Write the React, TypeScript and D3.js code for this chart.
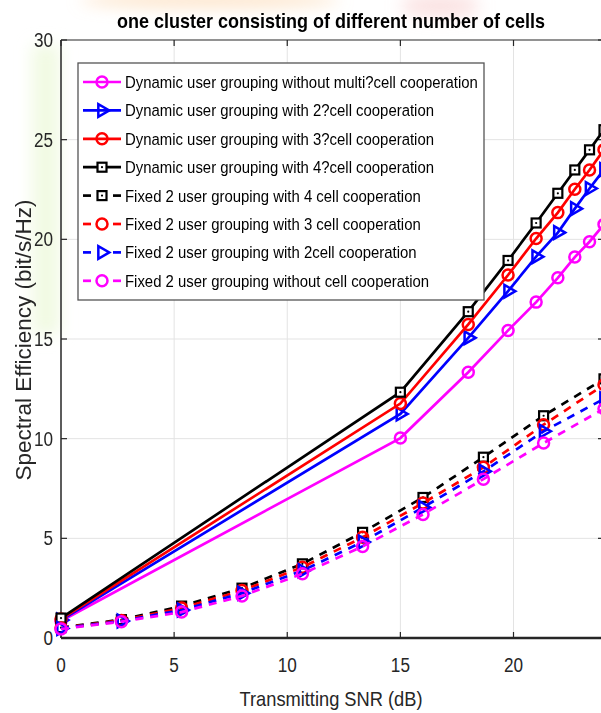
import React, { useEffect, useRef } from 'react';
import * as d3 from 'd3';

// x positions (dB)
const xDynamic = [0, 15, 18, 19.76, 21, 21.96, 22.71, 23.36, 24];
const xFixed = [0, 2.67, 5.33, 8, 10.67, 13.33, 16, 18.67, 21.33, 24];

// dynamic grouping (solid)
const dynNoCoop = [0.85, 10.03, 13.33, 15.43, 16.85, 18.07, 19.11, 19.88, 20.75];
const dyn2Cell = [0.9, 11.24, 15.06, 17.4, 19.13, 20.34, 21.54, 22.55, 23.5];
const dyn3Cell = [0.95, 11.76, 15.73, 18.21, 20.04, 21.34, 22.51, 23.48, 24.5];
const dyn4Cell = [1.0, 12.33, 16.37, 18.94, 20.82, 22.31, 23.48, 24.49, 25.5];

// fixed 2 user grouping (dashed)
const fix4Cell = [0.52, 0.92, 1.6, 2.5, 3.72, 5.3, 7.05, 9.07, 11.15, 13.0];
const fix3Cell = [0.5, 0.88, 1.5, 2.38, 3.55, 5.05, 6.77, 8.56, 10.7, 12.7];
const fix2Cell = [0.48, 0.85, 1.4, 2.25, 3.38, 4.82, 6.55, 8.36, 10.37, 12.0];
const fixNoCoop = [0.45, 0.82, 1.3, 2.11, 3.22, 4.59, 6.2, 7.97, 9.78, 11.5];

const xTicks = [0, 5, 10, 15, 20];
const yTicks = [0, 5, 10, 15, 20, 25, 30];

const legendLabels = [
  'Dynamic user grouping without multi?cell cooperation',
  'Dynamic user grouping with 2?cell cooperation',
  'Dynamic user grouping with 3?cell cooperation',
  'Dynamic user grouping with 4?cell cooperation',
  'Fixed 2 user grouping with 4 cell cooperation',
  'Fixed 2 user grouping with 3 cell cooperation',
  'Fixed 2 user grouping with 2cell cooperation',
  'Fixed 2 user grouping without cell cooperation',
];

const series = [
  { x: xDynamic, y: dynNoCoop, color: '#ff00ff', marker: 'circle', dashed: false },
  { x: xDynamic, y: dyn2Cell, color: '#0000ff', marker: 'triangle', dashed: false },
  { x: xDynamic, y: dyn3Cell, color: '#ff0000', marker: 'circle', dashed: false },
  { x: xDynamic, y: dyn4Cell, color: '#000000', marker: 'square', dashed: false },
  { x: xFixed, y: fix4Cell, color: '#000000', marker: 'square', dashed: true },
  { x: xFixed, y: fix3Cell, color: '#ff0000', marker: 'circle', dashed: true },
  { x: xFixed, y: fix2Cell, color: '#0000ff', marker: 'triangle', dashed: true },
  { x: xFixed, y: fixNoCoop, color: '#ff00ff', marker: 'circle', dashed: true },
];

const width = 601;
const height = 713;
const FONT = 'Arial, "Liberation Sans", Helvetica, sans-serif';

function drawMarker(g: any, type: string, cx: number, cy: number, color: string) {
  if (type === 'square') {
    g.append('rect')
      .attr('x', cx - 4.5).attr('y', cy - 4.5)
      .attr('width', 9).attr('height', 9)
      .attr('fill', 'white').attr('stroke', color).attr('stroke-width', 2.2);
    g.append('circle').attr('cx', cx).attr('cy', cy).attr('r', 1.1).attr('fill', color);
  } else if (type === 'circle') {
    g.append('circle')
      .attr('cx', cx).attr('cy', cy).attr('r', 5.5)
      .attr('fill', 'none').attr('stroke', color).attr('stroke-width', 2.5);
  } else {
    g.append('path')
      .attr('d', d3.symbol().type(d3.symbolTriangle).size(70)())
      .attr('transform', `translate(${cx},${cy}) rotate(90)`)
      .attr('fill', 'none').attr('stroke', color).attr('stroke-width', 2.5);
  }
}

function addText(g: any, str: string, x: number, y: number, size: number, sx: number, anchor = 'start', weight = 'normal', color = '#262626') {
  return g.append('text')
    .attr('transform', `translate(${x},${y}) scale(${sx},1)`)
    .attr('text-anchor', anchor)
    .attr('font-family', FONT)
    .attr('font-size', size)
    .attr('font-weight', weight)
    .attr('fill', color)
    .text(str);
}

function Chart() {
  const ref = useRef<SVGSVGElement>(null);

  useEffect(() => {
    const svg = d3.select(ref.current);
    svg.selectAll('*').remove();

    const xScale = d3.scaleLinear().domain([0, 24]).range([61, 604]);
    const yScale = d3.scaleLinear().domain([0, 30]).range([638, 40]);

    // faint background watermark
    const defs = svg.append('defs');
    defs.append('filter').attr('id', 'blur').append('feGaussianBlur').attr('stdDeviation', 8);
    const wm = svg.append('g').attr('filter', 'url(#blur)');
    wm.append('ellipse').attr('cx', 210).attr('cy', 0).attr('rx', 130).attr('ry', 8).attr('fill', '#fbd3a8').attr('opacity', 0.6);
    wm.append('ellipse').attr('cx', 440).attr('cy', 6).attr('rx', 40).attr('ry', 12).attr('fill', '#f7c2c2').attr('opacity', 0.45);
    wm.append('rect').attr('x', 32).attr('y', 45).attr('width', 28).attr('height', 290).attr('fill', '#eef9dc').attr('opacity', 0.8);

    // grid
    const grid = svg.append('g');
    xTicks.filter(t => t > 0).forEach(t => {
      grid.append('line')
        .attr('x1', xScale(t)).attr('x2', xScale(t))
        .attr('y1', yScale(0)).attr('y2', yScale(30))
        .attr('stroke', '#e3e3e3').attr('stroke-width', 1);
    });
    yTicks.filter(t => t > 0 && t < 30).forEach(t => {
      grid.append('line')
        .attr('x1', xScale(0)).attr('x2', xScale(24))
        .attr('y1', yScale(t)).attr('y2', yScale(t))
        .attr('stroke', '#e3e3e3').attr('stroke-width', 1);
    });

    // axes box
    const ax = svg.append('g').attr('stroke', '#262626');
    ax.append('line').attr('x1', xScale(0)).attr('x2', xScale(24)).attr('y1', yScale(0)).attr('y2', yScale(0)).attr('stroke-width', 2.5);
    ax.append('line').attr('x1', xScale(0)).attr('x2', xScale(0)).attr('y1', yScale(0)).attr('y2', yScale(30)).attr('stroke-width', 1.5);
    ax.append('line').attr('x1', xScale(0)).attr('x2', xScale(24)).attr('y1', yScale(30)).attr('y2', yScale(30)).attr('stroke-width', 1.2);
    ax.append('line').attr('x1', xScale(24)).attr('x2', xScale(24)).attr('y1', yScale(0)).attr('y2', yScale(30)).attr('stroke-width', 1.2);
    xTicks.forEach(t => {
      ax.append('line').attr('x1', xScale(t)).attr('x2', xScale(t)).attr('y1', yScale(0)).attr('y2', yScale(0) - 6).attr('stroke-width', 1.2);
      ax.append('line').attr('x1', xScale(t)).attr('x2', xScale(t)).attr('y1', yScale(30)).attr('y2', yScale(30) + 6).attr('stroke-width', 1.2);
      addText(svg, String(t), xScale(t), yScale(0) + 34, 19.5, 0.88, 'middle');
    });
    yTicks.forEach(t => {
      ax.append('line').attr('x1', xScale(0)).attr('x2', xScale(0) + 6).attr('y1', yScale(t)).attr('y2', yScale(t)).attr('stroke-width', 1.2);
      ax.append('line').attr('x1', xScale(24)).attr('x2', xScale(24) - 6).attr('y1', yScale(t)).attr('y2', yScale(t)).attr('stroke-width', 1.2);
      addText(svg, String(t), 53, yScale(t) + 7, 19.5, 0.88, 'end');
    });

    // lines and markers
    series.forEach(s => {
      const pts = s.x.map((xv, i) => [xv, s.y[i]] as [number, number]);
      const line = d3.line<[number, number]>().x(d => xScale(d[0])).y(d => yScale(d[1]));
      svg.append('path')
        .datum(pts)
        .attr('fill', 'none')
        .attr('stroke', s.color)
        .attr('stroke-width', 2.7)
        .attr('stroke-dasharray', s.dashed ? '8,7' : null)
        .attr('d', line);
      const mg = svg.append('g');
      pts.forEach(p => drawMarker(mg, s.marker, xScale(p[0]), yScale(p[1]), s.color));
    });

    // title and axis labels
    addText(svg, 'one cluster consisting of different number of cells', 331, 28, 20, 0.9, 'middle', 'bold', '#000');
    addText(svg, 'Transmitting SNR (dB)', 331, 706, 21, 0.87, 'middle');
    svg.append('text')
      .attr('transform', `translate(31,340) rotate(-90)`)
      .attr('text-anchor', 'middle')
      .attr('font-family', FONT)
      .attr('font-size', 22.5)
      .attr('fill', '#262626')
      .text('Spectral Efficiency (bit/s/Hz)');

    // legend
    const lg = svg.append('g');
    lg.append('rect')
      .attr('x', 78).attr('y', 63).attr('width', 406).attr('height', 237)
      .attr('fill', 'white').attr('stroke', '#555').attr('stroke-width', 1.3);
    legendLabels.forEach((lab, i) => {
      const s = series[i];
      const cy = 82 + i * 28.4;
      if (s.dashed) {
        lg.append('line').attr('x1', 83).attr('x2', 91).attr('y1', cy).attr('y2', cy).attr('stroke', s.color).attr('stroke-width', 2.7);
        lg.append('line').attr('x1', 113).attr('x2', 121).attr('y1', cy).attr('y2', cy).attr('stroke', s.color).attr('stroke-width', 2.7);
      } else {
        lg.append('line').attr('x1', 83).attr('x2', 121).attr('y1', cy).attr('y2', cy).attr('stroke', s.color).attr('stroke-width', 2.7);
      }
      drawMarker(lg, s.marker, 102, cy, s.color);
      addText(lg, lab, 125, cy + 6, 16.3, 0.915, 'start', 'normal', '#000');
    });
  }, []);

  return (
    <svg ref={ref} width={width} height={height} viewBox={`0 0 ${width} ${height}`}
      style={{ position: 'absolute', left: 0, top: 0, background: 'white' }} />
  );
}

export default function App() {
  return <Chart />;
}
